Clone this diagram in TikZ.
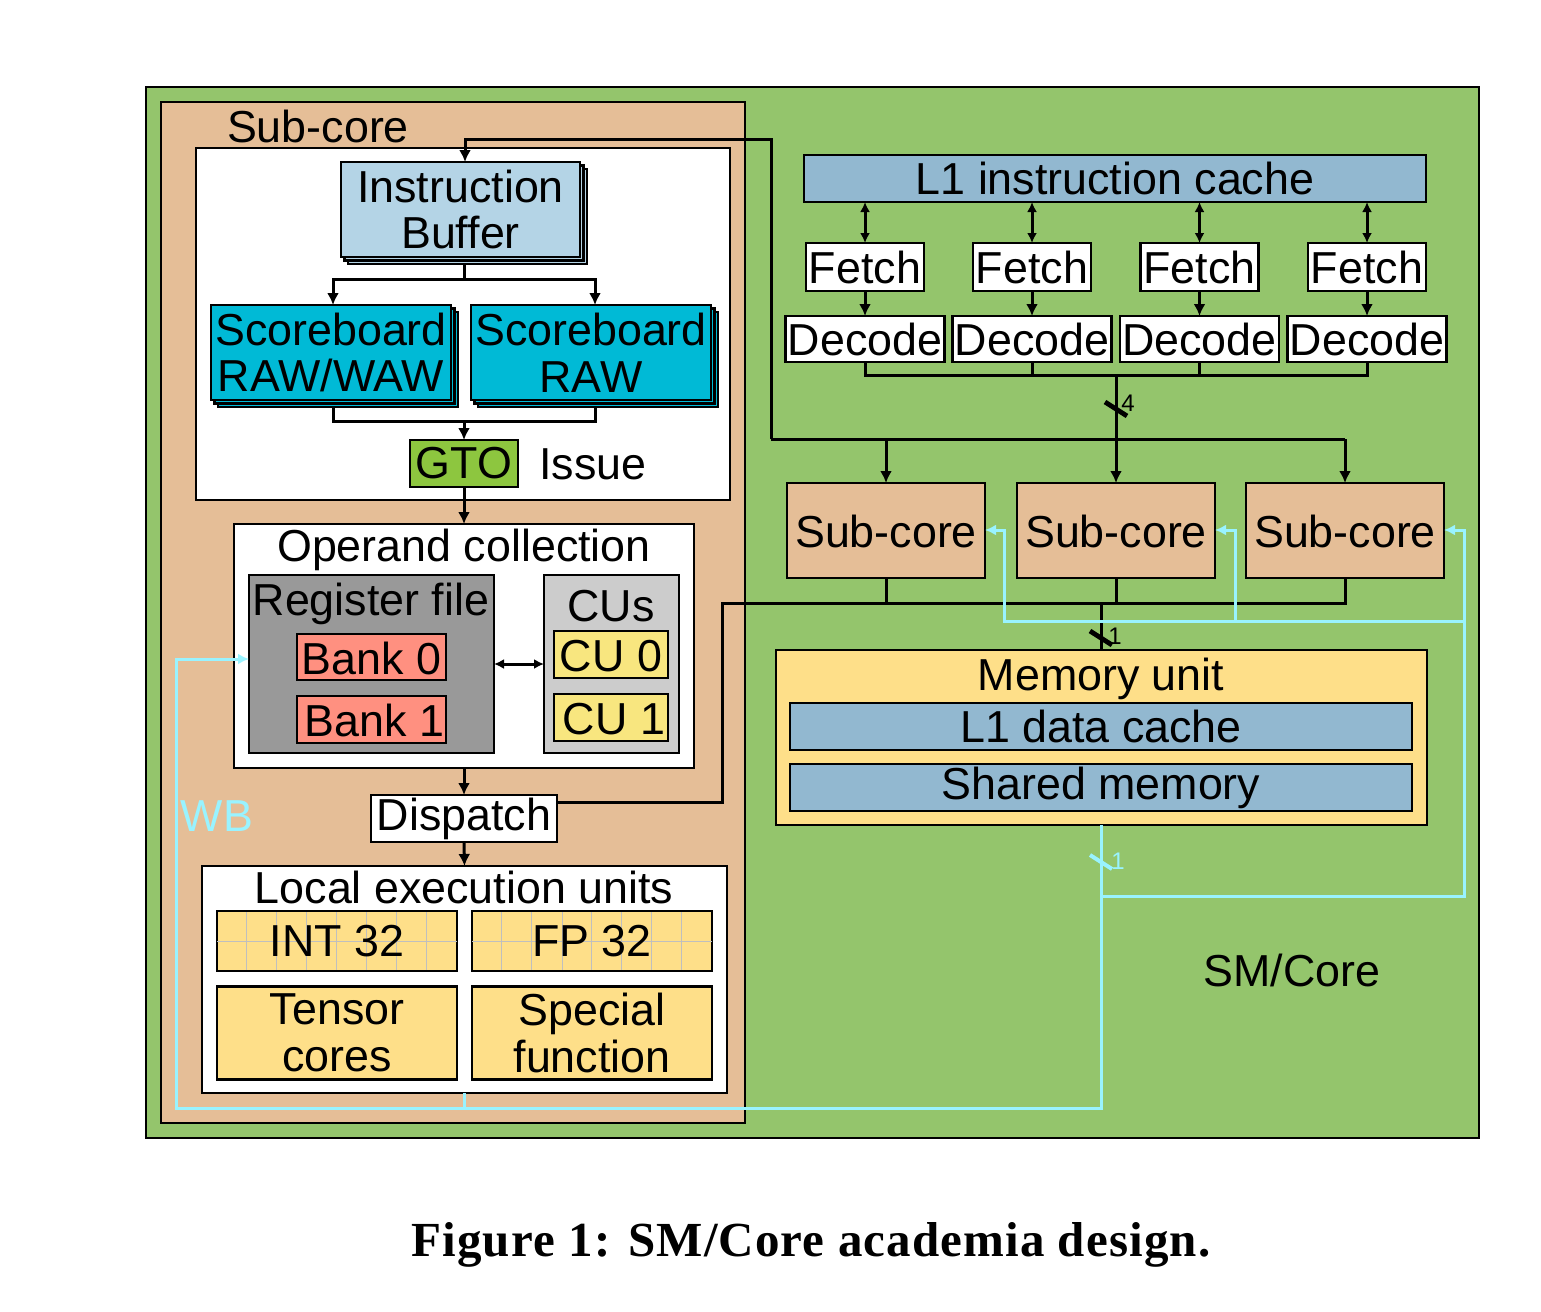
\documentclass[tikz,border=0pt]{standalone}
\usepackage{fontspec}
\setmainfont{Liberation Sans}
\newfontfamily\capfont{Liberation Serif}[LetterSpace=2.3]
\usetikzlibrary{arrows.meta,shadows}
\definecolor{coregreen}{HTML}{94C56C}
\definecolor{subtan}{HTML}{E5BE97}
\definecolor{bufblue}{HTML}{B4D4E6}
\definecolor{sbcyan}{HTML}{00BAD6}
\definecolor{gtogreen}{HTML}{8DC63F}
\definecolor{bankred}{HTML}{FF9080}
\definecolor{cuyellow}{HTML}{F8E67F}
\definecolor{unityellow}{HTML}{FEDF89}
\definecolor{cacheblue}{HTML}{92B8D0}
\definecolor{wbcyan}{HTML}{99F3FF}
\tikzset{
  wh/.style 2 args={minimum width=#1*0.5pt, minimum height=#2*0.5pt},
  bx/.style={draw, line width=1.2pt, inner sep=0pt, outer sep=0pt, align=center},
  txt/.style={font=\fontsize{22.4}{23.3}\selectfont, align=center},
  small/.style={font=\fontsize{12}{12}\selectfont},
  stack/.style={double copy shadow={shadow xshift=1.75pt, shadow yshift=-1.75pt}},
  wire/.style={line width=1.5pt, draw=black},
  arr/.style={wire, -{Latex[length=6pt,width=6pt]}},
  darr/.style={wire, {Latex[length=5pt,width=5pt]}-{Latex[length=5pt,width=5pt]}},
  wb/.style={line width=1.5pt, draw=wbcyan},
  wbarr/.style={wb, -{Latex[length=5.5pt,width=5.5pt]}},
  slash/.style={line width=2.4pt},
  gridln/.style={line width=0.5pt, draw=black!25}
}
\begin{document}
\begin{tikzpicture}[x=0.5pt, y=-0.5pt, txt]
  \useasboundingbox (0,0) rectangle (1541,1311);
  % outer boxes
  \node[bx, line width=1.3pt, fill=coregreen, wh={1333}{1051}] at (812.5,612.5) (core) {};
  \node[bx, line width=1.3pt, fill=subtan, wh={584}{1021}] at (453,612.5) (sub) {};
  \node at (318,126) (sublab) {Sub-core};
  \node at (1292,970) (corelab) {SM/Core};
  % issue stage
  \node[bx, fill=white, wh={534}{352}] at (463,324) (issuebox) {};
  \node[bx, fill=bufblue, stack, wh={239}{95}] at (460.5,209.5) (ibuf) {Instruction\\Buffer};
  \node[bx, fill=sbcyan, stack, wh={240}{95}] at (331,352.5) (sbl) {Scoreboard\\RAW/WAW};
  \node[bx, fill=sbcyan, stack, wh={240}{95}] at (591,352.5) (sbr) {Scoreboard\\RAW};
  \node[bx, fill=gtogreen, wh={108}{47}] at (464,463.5) (gto) {GTO};
  \node at (593,464) (issuelab) {Issue};
  % operand collection
  \node[bx, fill=white, wh={460}{244}] at (464,646) (opbox) {};
  \node at (464,549.5) (oplab) {Operand collection};
  \node[bx, fill=black!40, wh={245}{178}] at (371.5,664) (regbox) {};
  \node at (371,604) (reglab) {Register file};
  \node[bx, fill=bankred, wh={149}{46}, text height=17.5pt] at (371.5,657) (bank0) {Bank 0};
  \node[bx, fill=bankred, wh={149}{47}, text height=17pt] at (371.5,719.5) (bank1) {\hspace*{3pt}Bank 1};
  \node[bx, fill=black!20, wh={135}{178}] at (611.5,664) (cubox) {};
  \node at (611,606) (culab) {CUs};
  \node[bx, fill=cuyellow, wh={114}{47}, text height=17pt] at (611,654.5) (cu0) {CU 0};
  \node[bx, fill=cuyellow, wh={114}{47}, text height=17pt] at (611,717.5) (cu1) {\hspace*{3pt}CU 1};
  \node[bx, fill=white, wh={186}{47}] at (464,818.5) (disp) {Dispatch};
  % local execution units
  \node[bx, fill=white, wh={525}{227}] at (464.5,979.5) (localbox) {};
  \node at (464,887.5) (locallab) {Local execution units};
  \node[bx, fill=unityellow, wh={240}{60}] at (337,941) (intbox) {};
  \foreach \gx in {246.5,276.7,306.6,336.4,366.7,396.5,426.7}
    \draw[gridln] (\gx,912) -- (\gx,970);
  \draw[gridln] (intbox.west) -- (intbox.east);
  \node at (intbox) (intlab) {INT 32};
  \node[bx, fill=unityellow, wh={240}{60}] at (592,941) (fpbox) {};
  \foreach \gx in {501.4,531.6,562,591.7,621.5,651.8,681.6}
    \draw[gridln] (\gx,912) -- (\gx,970);
  \draw[gridln] (fpbox.west) -- (fpbox.east);
  \node at (fpbox) (fplab) {FP 32};
  \node[bx, fill=unityellow, wh={240}{93}] at (337,1033) (tensor) {Tensor\\cores};
  \node[bx, fill=unityellow, wh={240}{93}] at (592,1033) (special) {Special\\function};
  % front end
  \node[bx, fill=cacheblue, wh={622}{47}] at (1115,178.5) (l1i) {L1 instruction cache};
  \foreach \i/\cx in {1/865,2/1032,3/1199.5,4/1367} {
    \node[bx, fill=white, wh={118}{48}, text height=17pt] at (\cx,267) (fetch\i) {Fetch};
    \node[bx, fill=white, wh={159}{46}, text height=17pt] at (\cx,339) (dec\i) {Decode};
    \draw[darr] (fetch\i.north |- l1i.south) -- (fetch\i.north);
    \draw[arr] (fetch\i) -- (dec\i);
  }
  \node[bx, fill=subtan, wh={198}{95}, text height=17pt] at (886,530.5) (sc1) {Sub-core};
  \node[bx, fill=subtan, wh={198}{95}, text height=17pt] at (1116,530.5) (sc2) {Sub-core};
  \node[bx, fill=subtan, wh={198}{95}, text height=17pt] at (1345,530.5) (sc3) {Sub-core};
  % memory
  \node[bx, fill=unityellow, wh={651}{175}] at (1101.5,737.5) (mem) {};
  \node at (1101,679) (memlab) {Memory unit};
  \node[bx, fill=cacheblue, wh={622}{47}] at (1101,726.5) (l1d) {L1 data cache};
  \node[bx, fill=cacheblue, wh={622}{47}] at (1101,787.5) (shm) {Shared memory};
  % black connectors
  \coordinate (ibsplit) at (464,279);
  \coordinate (sbjoin) at (464,421);
  \draw[wire] (ibuf.south -| ibsplit) ++(0,7) -- (ibsplit);
  \draw[arr] (ibsplit) -| (333,305);
  \draw[arr] (ibsplit) -| (595,305);
  \draw[wire] (333,407) |- (sbjoin) -| (595,407);
  \draw[arr] (sbjoin) -- (gto.north);
  \draw[arr] (gto.south) -- (opbox.north);
  \draw[darr] (regbox.east |- 0,664) -- (cubox.west |- 0,664);
  \draw[arr] (opbox.south) -- (disp.north);
  \draw[arr] (disp.south) -- (localbox.north);
  \coordinate (decbus) at (1116,375);
  \foreach \i in {1,2,3,4}
    \draw[wire] (dec\i.south) |- (decbus);
  \draw[arr] (decbus) -- (sc2.north);
  \coordinate (fetchbus) at (771,439);
  \draw[wire] (fetchbus) -- (1345,439);
  \draw[arr] (sc1.north |- fetchbus) -- (sc1.north);
  \draw[arr] (sc3.north |- fetchbus) -- (sc3.north);
  \draw[arr] (fetchbus) |- (465,139) -- (ibuf.north -| 465,0);
  \coordinate (membus) at (1101,603);
  \draw[wire] (disp.east |- 0,802) -| (722,603) -- (sc3.south |- membus) -- (sc3.south);
  \draw[wire] (sc1.south) -- (sc1.south |- membus);
  \draw[wire] (sc2.south) -- (sc2.south |- membus);
  \draw[wire] (membus) -- (mem.north -| membus);
  \coordinate (tick4) at (1116,409);
  \coordinate (tick1) at (1101,638);
  \draw[slash] ([shift={(-11,-7)}]tick4) -- ([shift={(11,7)}]tick4);
  \draw[slash] ([shift={(-11,-7)}]tick1) -- ([shift={(11,7)}]tick1);
  \node[small] at (1128,403) (lab4) {4};
  \node[small] at (1115,636) (lab1) {1};
  % write back
  \coordinate (wbtop) at (1101,825);
  \coordinate (wbsplit) at (1101,896);
  \coordinate (wbright) at (1464,621);
  \draw[wbarr] (wbtop) |- (176,1108) |- (regbox.west |- 0,659);
  \draw[wb] (localbox.south) -- (464.5,1108);
  \draw[wbarr] (wbsplit) -| (1464,530) -- (sc3.east |- 0,530);
  \draw[wbarr] (wbright) -| (1004,530) -- (sc1.east |- 0,530);
  \draw[wbarr] (1235,621) -- (1235,530) -- (sc2.east |- 0,530);
  \coordinate (tickwb) at (1101,862);
  \draw[slash, wbcyan, line width=2pt] ([shift={(-11,-7)}]tickwb) -- ([shift={(11,7)}]tickwb);
  \node[small, wbcyan] at (1118,861) (labwb) {1};
  \node[wbcyan] at (217,816) (wblab) {WB};
  % caption
  \node[font=\capfont\bfseries\fontsize{24.5}{25}\selectfont] at (811,1245) (caption) {Figure 1: SM/Core academia design.};
\end{tikzpicture}
\end{document}
